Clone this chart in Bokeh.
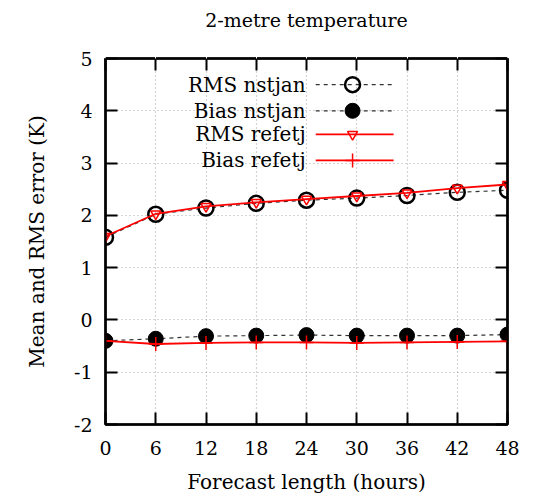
from bokeh.plotting import figure
from bokeh.models import LinearAxis, Label, FixedTicker, Range1d
from bokeh.embed import file_html
from bokeh.resources import INLINE

hours = [0, 6, 12, 18, 24, 30, 36, 42, 48]
rms_nstjan = [1.58, 2.02, 2.14, 2.23, 2.29, 2.33, 2.38, 2.44, 2.48]
bias_nstjan = [-0.40, -0.36, -0.31, -0.30, -0.29, -0.30, -0.30, -0.30, -0.28]
rms_refetj = [1.60, 2.03, 2.17, 2.25, 2.31, 2.37, 2.43, 2.52, 2.59]
bias_refetj = [-0.40, -0.46, -0.44, -0.43, -0.43, -0.44, -0.43, -0.42, -0.41]
x_ticks = [0, 6, 12, 18, 24, 30, 36, 42, 48]
y_ticks = [-2, -1, 0, 1, 2, 3, 4, 5]
y_tick_labels = ["-2", "-1", "0", "1", "2", "3", "4", "5"]
legend_labels = ["RMS nstjan", "Bias nstjan", "RMS refetj", "Bias refetj"]
title_text = "2-metre temperature"

FONT = "DejaVu Serif"

p = figure(width=527, height=498, output_backend="svg", toolbar_location=None,
           x_range=Range1d(0, 48), y_range=Range1d(-2, 5),
           min_border_left=105, min_border_right=20, min_border_top=58, min_border_bottom=74,
           title=title_text)
p.title.align = "center"
p.title.text_font = FONT
p.title.text_font_size = "19px"
p.title.text_font_style = "normal"
p.title.text_color = "black"
p.title.standoff = 4

p.outline_line_color = "black"
p.outline_line_width = 2.5

for ax in (p.xaxis[0], p.yaxis[0]):
    ax.major_tick_in = 12
    ax.major_tick_out = 0
    ax.minor_tick_in = 0
    ax.minor_tick_out = 0
    ax.axis_line_color = "black"
    ax.axis_line_width = 2
    ax.major_tick_line_width = 2
    ax.major_label_text_font = FONT
    ax.major_label_text_font_size = "19px"
    ax.major_label_text_color = "black"
    ax.axis_label_text_font = FONT
    ax.axis_label_text_font_size = "20px"
    ax.axis_label_text_font_style = "normal"
    ax.axis_label_text_color = "black"

p.xaxis.ticker = FixedTicker(ticks=x_ticks)
p.yaxis.ticker = FixedTicker(ticks=y_ticks)
p.yaxis.major_label_overrides = {t: s for t, s in zip(y_ticks, y_tick_labels)}
p.xaxis.axis_label = "Forecast length (hours)"
p.yaxis.axis_label = "Mean and RMS error (K)"
p.xaxis.major_label_standoff = 16
p.yaxis.major_label_standoff = 13
p.xaxis.axis_label_standoff = 12
p.yaxis.axis_label_standoff = 22

mirror = dict(major_label_text_font_size="1px", major_label_text_color=None,
              major_label_standoff=0, major_tick_in=12, major_tick_out=0,
              minor_tick_in=0, minor_tick_out=0, axis_line_width=2,
              major_tick_line_width=2)
top = LinearAxis(ticker=FixedTicker(ticks=x_ticks), **mirror)
right = LinearAxis(ticker=FixedTicker(ticks=y_ticks), **mirror)
p.add_layout(top, "above")
p.add_layout(right, "right")

# invisible spacer axis that lifts the title away from the frame
spacer = LinearAxis(ticker=FixedTicker(ticks=x_ticks), axis_line_color=None,
                    major_tick_line_color="white", minor_tick_line_color=None,
                    major_tick_in=0, major_tick_out=26, minor_tick_in=0, minor_tick_out=0,
                    major_label_text_font_size="1px", major_label_text_color=None,
                    major_label_standoff=0)
p.add_layout(spacer, "above")

p.xgrid.ticker = FixedTicker(ticks=x_ticks)
p.ygrid.ticker = FixedTicker(ticks=y_ticks)
for g in (p.xgrid[0], p.ygrid[0]):
    g.grid_line_color = "#aaaaaa"
    g.grid_line_dash = "1 3"
    g.grid_line_width = 1.2

# nstjan
p.line(hours, rms_nstjan, line_color="#333333", line_dash="4 4", line_width=1.2)
p.scatter(hours, rms_nstjan, marker="circle", size=15, fill_color=None,
          line_color="black", line_width=2.5)
p.line(hours, bias_nstjan, line_color="#333333", line_dash="4 4", line_width=1.2)
p.scatter(hours, bias_nstjan, marker="circle", size=15, fill_color="black",
          line_color="black")
# refetj
p.line(hours, rms_refetj, line_color="red", line_width=1.8)
p.scatter(hours, rms_refetj, marker="inverted_triangle", size=10, fill_color=None,
          line_color="red", line_width=1.5)
p.line(hours, bias_refetj, line_color="red", line_width=1.8)
p.scatter(hours, bias_refetj, marker="cross", size=14, line_color="red", line_width=1.5)

# key (gnuplot-style: text right-aligned, sample to the right)
key_y = [4.5, 4.0, 3.55, 3.05]
kx0, kx1, kxm, ktx = 25.1, 34.4, 29.5, 23.9
styles = [
    dict(color="#333333", dash="4 4", lw=1.2, marker="circle", size=15, fill=None, mlw=2.5),
    dict(color="#333333", dash="4 4", lw=1.2, marker="circle", size=15, fill="black", mlw=1),
    dict(color="red", dash="solid", lw=1.8, marker="inverted_triangle", size=10, fill=None, mlw=1.5),
    dict(color="red", dash="solid", lw=1.8, marker="cross", size=14, fill=None, mlw=1.5),
]
for lab, ky, st in zip(legend_labels, key_y, styles):
    p.line([kx0, kx1], [ky, ky], line_color=st["color"], line_dash=st["dash"], line_width=st["lw"])
    mcol = "black" if st["color"] != "red" else "red"
    p.scatter([kxm], [ky], marker=st["marker"], size=st["size"], fill_color=st["fill"],
              line_color=mcol, line_width=st["mlw"])
    p.add_layout(Label(x=ktx, y=ky, text=lab, text_align="right", text_baseline="middle",
                       text_font=FONT, text_font_size="20px", text_color="black"))

open("out.html", "w").write(file_html(p, INLINE))
